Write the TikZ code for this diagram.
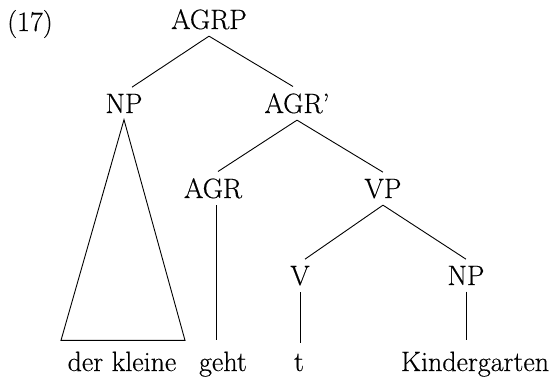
\documentclass[tikz,border=0pt]{standalone}
\usepackage{fontspec}
\setmainfont{Latin Modern Roman}[UprightFeatures={FakeBold=0.4}]
\newcommand\treefont{\fontsize{28}{32}\selectfont}
\begin{document}
\begin{tikzpicture}[x=1pt,y=-1pt,
  lab/.style={anchor=base,inner xsep=0pt,inner ysep=6.5pt,font=\treefont},
  word/.style={anchor=base,inner xsep=0pt,inner ysep=11pt,font=\treefont},
  branch/.style={line width=0.9pt,line join=miter}]
\useasboundingbox (0,0) rectangle (558,378);

% example number
\node[anchor=base,inner sep=0pt,font=\treefont] (num) at (30,31) {(17)};

% category labels
\node[lab] (agrp)   at (209,29)  {AGRP};
\node[lab] (np1)    at (124,113) {NP};
\node[lab] (agrbar) at (297,113) {AGR’};
\node[lab] (agr)    at (213,198) {AGR};
\node[lab] (vp)     at (383,198) {VP};
\node[lab] (v)      at (300,285) {V};
\node[lab] (np2)    at (466,285) {NP};

% terminal words
\node[word] (dk)   at (122,371) {der kleine};
\node[word] (geht) at (223,371) {geht};
\node[word] (t)    at (299,371) {t};
\node[word] (kg)   at (475,371) {Kindergarten};

% branches
\draw[branch] (agrp.south) -- ([xshift=8pt]np1.north);
\draw[branch] (agrp.south) -- ([xshift=-4pt]agrbar.north);
\draw[branch] (agrbar.south) -- ([xshift=5pt]agr.north);
\draw[branch] (agrbar.south) -- (vp.north);
\draw[branch] (vp.south) -- ([xshift=5pt]v.north);
\draw[branch] (vp.south) -- (np2.north);

% unary branches
\draw[branch] ([xshift=3pt]agr.south) -- ([xshift=3pt]agr.south |- geht.north);
\draw[branch] (v.south) -- (v.south |- t.north);
\draw[branch] (np2.south) -- (np2.south |- kg.north);

% triangle over the subject NP
\draw[branch] (np1.south) -- ([xshift=-61pt]dk.north) -- ([xshift=63pt]dk.north) -- cycle;
\end{tikzpicture}
\end{document}
